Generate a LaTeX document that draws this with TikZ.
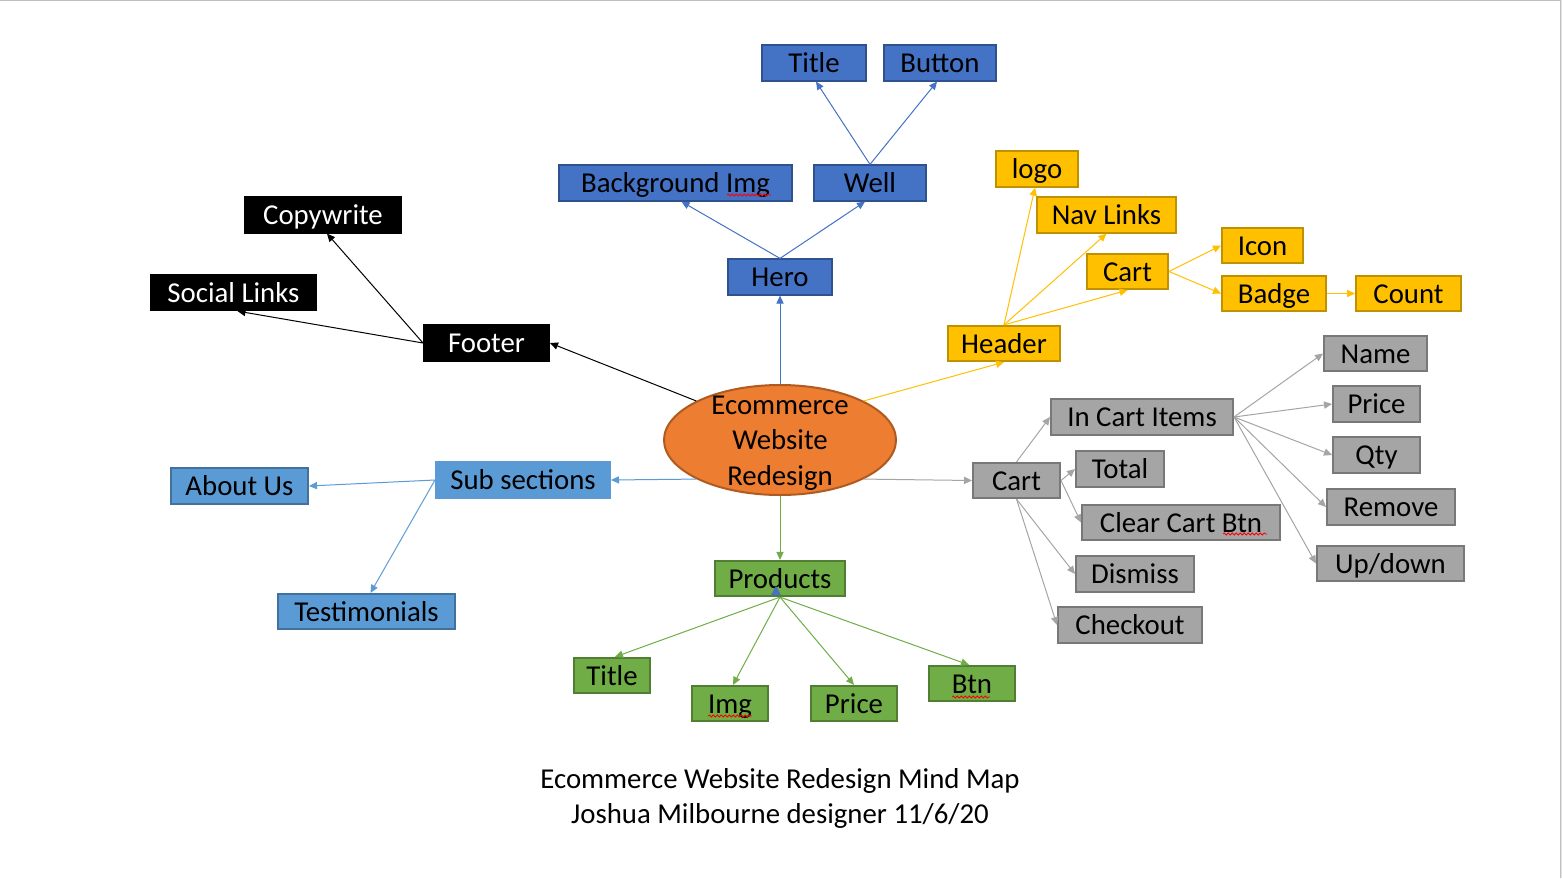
\documentclass[tikz,border=0pt]{standalone}
\usepackage{fontspec}
\setmainfont{Carlito}
\usetikzlibrary{arrows.meta,shapes.geometric,decorations.pathmorphing}
\definecolor{cBlue}{HTML}{4472C4}
\definecolor{cBlueD}{HTML}{2F528F}
\definecolor{cYel}{HTML}{FFC000}
\definecolor{cYelD}{HTML}{BF9000}
\definecolor{cGray}{HTML}{A5A5A5}
\definecolor{cGrayD}{HTML}{787878}
\definecolor{cLb}{HTML}{5B9BD5}
\definecolor{cLbD}{HTML}{41719C}
\definecolor{cGrn}{HTML}{70AD47}
\definecolor{cGrnD}{HTML}{507E32}
\definecolor{cOr}{HTML}{ED7D31}
\definecolor{cOrD}{HTML}{AE5A21}
\definecolor{cFrame}{HTML}{BFBFBF}
\begin{document}
\begin{tikzpicture}[x=0.5pt,y=-0.5pt,
  font=\fontsize{14.4pt}{17.75pt}\selectfont,
  bx/.style 2 args={rectangle, minimum width=#1*0.5pt, minimum height=#2*0.5pt,
     inner sep=0pt, line width=1pt, text height=13.7pt, text depth=3.9pt},
  bluebox/.style={fill=cBlue, draw=cBlueD},
  blackbox/.style={fill=black, draw=black, text=white},
  yelbox/.style={fill=cYel, draw=cYelD},
  graybox/.style={fill=cGray, draw=cGrayD},
  lbbox/.style={fill=cLb, draw=cLbD},
  grnbox/.style={fill=cGrn, draw=cGrnD},
  arr/.style={-{Triangle[length=4pt,width=3.6pt]}, line width=0.5pt},
  spell/.style={draw=red, line width=0.4pt, decorate,
     decoration={snake, amplitude=0.5pt, segment length=2pt}},
  captxt/.style={anchor=base, inner sep=0pt}
]
\useasboundingbox (0,0) rectangle (1562,878);
\fill[white] (0,0) rectangle (1562,878);
\fill[cFrame!40] (1560,0) rectangle (1562,878);
\draw[cFrame, line width=0.5pt] (0,0.5) -- (1560,0.5) -- (1560,878);

% central
\node[ellipse, minimum width=116pt, minimum height=55pt, inner sep=-12pt,
      fill=cOr, draw=cOrD, line width=1pt, align=center] (ell) at (780,440)
  {\rule{0pt}{13.7pt}Ecommerce\\Website\\Redesign\rule[-3.9pt]{0pt}{3.9pt}};

% blue (hero)
\node[bluebox, bx={104}{30}] (ttl) at (814,63) {Title};
\node[bluebox, bx={112}{30}] (btn) at (940,63) {Button};
\node[bluebox, bx={233}{29}] (bg) at (675.5,183) {Background Img};
\node[bluebox, bx={112}{29}] (well) at (870,183) {Well};
\node[bluebox, bx={104}{29}] (hero) at (780,277) {Hero};

% footer
\node[blackbox, bx={156}{33}] (copy) at (323,215) {Copywrite};
\node[blackbox, bx={165}{33}] (social) at (233.5,292.5) {Social Links};
\node[blackbox, bx={125}{32}] (foot) at (486.5,343) {Footer};

% header
\node[yelbox, bx={82}{30}] (logo) at (1037,169) {logo};
\node[yelbox, bx={139}{30}] (nav) at (1106.5,215) {Nav Links};
\node[yelbox, bx={81}{31}] (ycart) at (1127.5,271.5) {Cart};
\node[yelbox, bx={81}{31}] (icon) at (1262.5,245.5) {Icon};
\node[yelbox, bx={104}{31}] (badge) at (1274,293.5) {Badge};
\node[yelbox, bx={105}{31}] (count) at (1408.5,293.5) {Count};
\node[yelbox, bx={112}{29}] (head) at (1004,343.5) {Header};

% cart
\node[graybox, bx={87}{31}] (gcart) at (1016.5,480.5) {Cart};
\node[graybox, bx={182}{30}] (items) at (1142,417) {In Cart Items};
\node[graybox, bx={88}{30}] (total) at (1120,469) {Total};
\node[graybox, bx={198}{31}] (clear) at (1181,522.5) {Clear Cart Btn};
\node[graybox, bx={118}{30}] (dismiss) at (1135,574) {Dismiss};
\node[graybox, bx={144}{30}] (checkout) at (1130,625) {Checkout};
\node[graybox, bx={103}{31}] (name) at (1375.5,353.5) {Name};
\node[graybox, bx={87}{30}] (price) at (1376.5,404) {Price};
\node[graybox, bx={87}{30}] (qty) at (1376.5,455) {Qty};
\node[graybox, bx={128}{30}] (remove) at (1391,507) {Remove};
\node[graybox, bx={147}{31}] (updown) at (1390.5,563.5) {Up/down};

% sub sections
\node[lbbox, draw=cLb, bx={174}{28}] (subs) at (523,480) {Sub sections};
\node[lbbox, bx={137}{32}] (about) at (239.5,486) {About Us};
\node[lbbox, bx={177}{31}] (testi) at (366.5,611.5) {Testimonials};

% products
\node[grnbox, bx={130}{35}] (prod) at (780,578.5) {Products};
\node[grnbox, bx={76}{33}] (gttl) at (612,675.5) {Title};
\node[grnbox, bx={76}{33}] (img) at (730,703.5) {Img};
\node[grnbox, bx={86}{33}] (gprice) at (854,703.5) {Price};
\node[grnbox, bx={86}{33}] (gbtn) at (972,683.5) {Btn};

% connectors: hero
\draw[arr, cBlue] (ell.north) -- (hero.south);
\draw[arr, cBlue] (hero.north) -- ([xshift=3pt]bg.south);
\draw[arr, cBlue] (hero.north) -- ([xshift=-2.5pt]well.south);
\draw[arr, cBlue] (well.north) -- ([xshift=1pt]ttl.south);
\draw[arr, cBlue] (well.north) -- ([xshift=-1.5pt]btn.south);

% footer
\draw[arr, black] (ell.155) -- (foot.east);
\draw[arr, black] (foot.west) -- ([xshift=2pt]copy.south);
\draw[arr, black] (foot.west) -- ([xshift=2pt]social.south);

% header
\draw[arr, cYel] (ell.25) -- (head.south);
\draw[arr, cYel] (head.north) -- ([xshift=-1pt]logo.south);
\draw[arr, cYel] (head.north) -- (nav.south);
\draw[arr, cYel] (head.north) -- (ycart.south);
\draw[arr, cYel] (ycart.east) -- (icon.west);
\draw[arr, cYel] (ycart.east) -- (badge.west);
\draw[arr, cYel] (badge.east) -- (count.west);

% cart
\draw[arr, cGray] (ell.-25) -- (gcart.west);
\draw[arr, cGray] (gcart.north) -- (items.west);
\draw[arr, cGray] (gcart.east) -- (total.west);
\draw[arr, cGray] (gcart.east) -- (clear.west);
\draw[arr, cGray] (gcart.south) -- (dismiss.west);
\draw[arr, cGray] (gcart.south) -- (checkout.west);
\draw[arr, cGray] (items.east) -- (name.west);
\draw[arr, cGray] (items.east) -- (price.west);
\draw[arr, cGray] (items.east) -- (qty.west);
\draw[arr, cGray] (items.east) -- (remove.west);
\draw[arr, cGray] (items.east) -- (updown.west);

% sub sections
\draw[arr, cLb] (ell.205) -- (subs.east);
\draw[arr, cLb] (subs.west) -- (about.east);
\draw[arr, cLb] (subs.west) -- ([xshift=2pt]testi.north);

% products
\draw[arr, cGrn] (ell.south) -- (prod.north);
\draw[arr, cGrn] (prod.south) -- ([xshift=1.5pt]gttl.north);
\draw[arr, cGrn] (prod.south) -- ([xshift=1.5pt]img.north);
\draw[arr, cGrn] (prod.south) -- (gprice.north);
\draw[arr, cGrn] (prod.south) -- ([xshift=-1.5pt]gbtn.north);
\fill[cBlue] (771,595) -- (781,595) -- (776,586) -- cycle;

% spell-check marks
\draw[spell] (727,195) -- (771,195);
\draw[spell] (1223,534) -- (1267,534);
\draw[spell] (708,716) -- (752,716);
\draw[spell] (952,697) -- (990,697);

% caption
\node[captxt] (cap1) at (780,788) {Ecommerce Website Redesign Mind Map};
\node[captxt] (cap2) at (780,823) {Joshua Milbourne designer 11/6/20};
\end{tikzpicture}
\end{document}
